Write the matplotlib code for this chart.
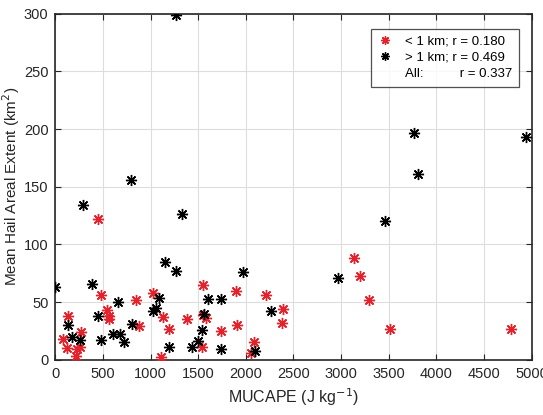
import matplotlib
matplotlib.use("Agg")
import matplotlib.pyplot as plt
from matplotlib.lines import Line2D

plt.rcParams['font.family'] = ['Liberation Sans', 'DejaVu Sans']

# < 1 km events
low_cape = [450, 475, 845, 1026, 1550, 1893, 135, 544, 565, 565, 880, 1125, 1191,
            1383, 1550, 1585, 1736, 1907, 265, 76, 125, 223, 258, 216, 1107, 1540,
            2085, 2058, 2215, 2389, 2382, 3133, 3203, 3298, 3514, 4786]
low_area = [122, 56, 52, 58, 65, 60, 38, 43, 38, 35, 29, 37, 27,
            35, 39, 36, 25, 30, 24, 18, 10, 9, 11, 3, 2, 11,
            15, 6, 56, 44, 32, 88, 73, 52, 27, 27]

# > 1 km events
high_cape = [1264, 3769, 4943, 3804, 792, 293, 1334, 3462, 1152, 1264, 1970, 2970,
             380, 0, 660, 1089, 1606, 1740, 450, 1020, 1058, 1565, 2260, 130, 800,
             1542, 171, 258, 475, 600, 677, 719, 1191, 1432, 1495, 1740, 2092]
high_area = [299, 197, 193, 161, 156, 134, 126, 120, 85, 77, 76, 71,
             66, 63, 50, 54, 53, 53, 38, 42, 45, 40, 42, 30, 31,
             26, 20, 17, 17, 22, 22, 15, 11, 11, 16, 9, 8]

labels = ['< 1 km; r = 0.180', '> 1 km; r = 0.469', 'All:          r = 0.337']
xticks = list(range(0, 5001, 500))
yticks = list(range(0, 301, 50))

fig = plt.figure(figsize=(5.43, 4.15), dpi=100)
ax = fig.add_axes([0.102, 0.133, 0.877, 0.834])

red = '#e3222c'
mk = (8, 2, 0)
ax.plot(low_cape, low_area, linestyle='none', marker=mk, markersize=8,
        markeredgewidth=1.0, color=red, zorder=3)
ax.plot(high_cape, high_area, linestyle='none', marker=mk, markersize=8,
        markeredgewidth=1.0, color='black', zorder=3)

ax.set_xlim(0, 5000)
ax.set_ylim(0, 300)
ax.set_xticks(xticks)
ax.set_yticks(yticks)
ax.grid(True, color='#dddddd', linewidth=0.8)
ax.set_axisbelow(True)
ax.tick_params(direction='in', top=True, right=True, length=4, labelsize=10.5,
               colors='#262626', labelcolor='#262626', pad=5)
for s in ax.spines.values():
    s.set_color('#262626')
    s.set_linewidth(1.2)

ax.set_xlabel('MUCAPE (J kg$^{-1}$)', fontsize=11.5, color='#262626', labelpad=4)
ax.set_ylabel('Mean Hail Areal Extent (km$^{2}$)', fontsize=11, color='#262626')
ax.yaxis.set_label_coords(-0.071, 0.5)

handles = [Line2D([], [], linestyle='none', marker=mk, markersize=6, markeredgewidth=1, color=red),
           Line2D([], [], linestyle='none', marker=mk, markersize=6, markeredgewidth=1, color='black'),
           Line2D([], [], linestyle='none', marker=None)]
leg = ax.legend(handles, labels, loc='upper right', bbox_to_anchor=(0.973, 0.957),
                fontsize=9.5, frameon=True, fancybox=False, edgecolor='#262626',
                handlelength=1.2, handletextpad=0.9, labelspacing=0.32,
                borderpad=0.5, borderaxespad=0)
leg.get_frame().set_linewidth(0.9)

fig.savefig('out.png', dpi=100)
